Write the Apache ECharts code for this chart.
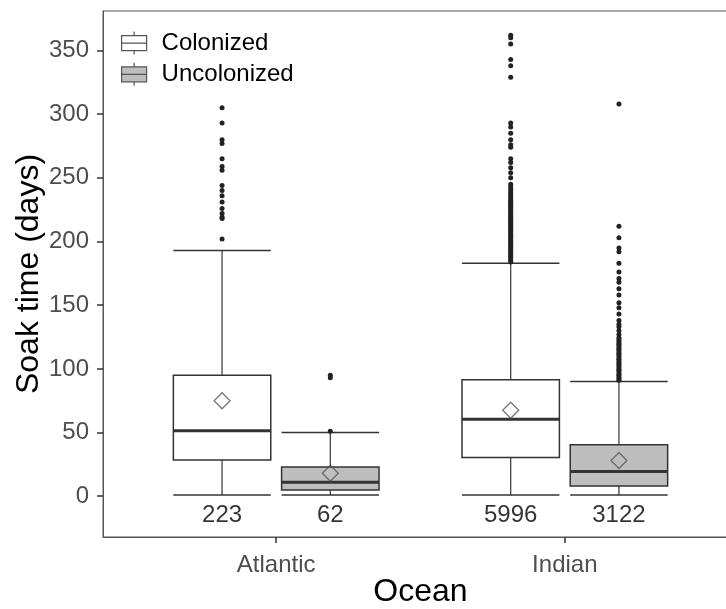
<!DOCTYPE html>
<html>
<head>
<meta charset="utf-8">
<script src="https://cdn.jsdelivr.net/npm/echarts@6/dist/echarts.min.js"></script>
<style>
  html, body { margin: 0; padding: 0; background: #fff; }
  #chart { width: 726px; height: 609px; }
</style>
</head>
<body>
<div id="chart"></div>
<script>
// 데이터
var categories = ['Atlantic', 'Indian'];
var groups = ['Colonized', 'Uncolonized'];
var yTicks = [0, 50, 100, 150, 200, 250, 300, 350];

// [min, Q1, median, Q3, max] per ocean
var colonizedBox = [[1, 28.5, 51.5, 95, 193], [1, 30.5, 60.5, 91.5, 183]];
var uncolonizedBox = [[1, 5, 11, 23, 50], [1, 8, 19.5, 40.5, 90]];
var colonizedMean = [75, 67.5];
var uncolonizedMean = [18, 28];
var colonizedN = [223, 5996];
var uncolonizedN = [62, 3122];

var colonizedOutliers = [
  [202, 218, 219, 222, 226, 231, 236, 240, 244, 256, 259, 265, 277, 280, 293, 305],
  [184, 185.5, 187, 188.5, 190, 191, 192.5, 194, 195.5, 197, 198, 199.5, 201, 202.5, 204, 205,
   206.5, 208, 209, 210.5, 212, 213.5, 215, 216, 217.5, 219, 220, 221.5, 223, 224.5, 226, 227,
   228.5, 230, 231, 232.5, 234, 236, 237.5, 239, 241, 243, 245, 250, 254, 258, 262, 265,
   274, 276, 280, 285, 290, 293, 329, 338, 343, 355, 360, 362]
];
var uncolonizedOutliers = [
  [51, 93, 95],
  [91, 92, 93.5, 95, 96, 97.5, 99, 100, 101.5, 103, 104, 105.5, 107, 108, 109.5, 111, 112,
   113.5, 115, 116, 117.5, 119, 120, 121.5, 123, 124.5, 127, 130, 133, 135, 138, 143, 148,
   152, 158, 163, 168, 171, 176, 183, 192, 195, 203, 212, 308]
];

var dodge = 0.1875;
var boxWidth = 0.3375;
var labelY = -15;
var fills = ['#ffffff', '#bebebe'];
var font = 'Liberation Sans, Arial, sans-serif';

function boxData(boxes, offset) {
  return boxes.map(function (b, i) { return [i + 1 + offset].concat(b); });
}
function pointData(lists, offset) {
  var out = [];
  lists.forEach(function (vals, i) {
    vals.forEach(function (v) { out.push([i + 1 + offset, v]); });
  });
  return out;
}
function meanData(means, offset) {
  return means.map(function (m, i) { return [i + 1 + offset, m]; });
}
function countData(ns, offset) {
  return ns.map(function (n, i) { return [i + 1 + offset, labelY, n]; });
}

function renderBox(fill) {
  return function (params, api) {
    var x = api.value(0);
    var lo = api.coord([x, api.value(1)]);
    var q1 = api.coord([x, api.value(2)]);
    var md = api.coord([x, api.value(3)]);
    var q3 = api.coord([x, api.value(4)]);
    var hi = api.coord([x, api.value(5)]);
    var hw = api.size([boxWidth, 0])[0] / 2;
    function line(x1, y1, x2, y2, w) {
      return { type: 'line', shape: { x1: x1, y1: y1, x2: x2, y2: y2 },
               style: { stroke: '#333', lineWidth: w } };
    }
    return {
      type: 'group',
      children: [
        line(hi[0] - hw, hi[1], hi[0] + hw, hi[1], 1.5),
        line(lo[0] - hw, lo[1], lo[0] + hw, lo[1], 1.5),
        line(hi[0], hi[1], hi[0], q3[1], 1.2),
        line(lo[0], lo[1], lo[0], q1[1], 1.2),
        { type: 'rect', shape: { x: q3[0] - hw, y: q3[1], width: 2 * hw, height: q1[1] - q3[1] },
          style: { fill: fill, stroke: '#333', lineWidth: 1.5 } },
        line(md[0] - hw, md[1], md[0] + hw, md[1], 3)
      ]
    };
  };
}

function groupSeries(name, boxes, outliers, means, ns, offset, fill) {
  return [
    {
      name: name, type: 'custom', z: 2,
      itemStyle: { color: fill, borderColor: '#333' },
      encode: { x: 0, y: [1, 2, 3, 4, 5] },
      renderItem: renderBox(fill),
      data: boxData(boxes, offset)
    },
    {
      name: name + ' outliers', type: 'scatter', z: 3, symbolSize: 5,
      itemStyle: { color: '#222', opacity: 1 },
      data: pointData(outliers, offset)
    },
    {
      name: name + ' mean', type: 'scatter', z: 4, symbol: 'diamond', symbolSize: 16,
      itemStyle: { color: 'rgba(0,0,0,0)', borderColor: '#555', borderWidth: 1.3 },
      data: meanData(means, offset)
    },
    {
      name: name + ' n', type: 'scatter', z: 4, symbolSize: 1,
      itemStyle: { color: 'rgba(0,0,0,0)' },
      label: {
        show: true, position: 'inside', color: '#000', fontSize: 24, fontFamily: font,
        formatter: function (p) { return String(p.value[2]); }
      },
      data: countData(ns, offset)
    }
  ];
}

var legendIcon = 'path://M0,4H25V19H0Z M0,11.5H25 M12.5,0V4 M12.5,19V23';

var chart = echarts.init(document.getElementById('chart'));
chart.setOption({
  animation: false,
  textStyle: { fontFamily: font },
  grid: {
    left: 103, top: 11, right: -12, bottom: 72, show: true, borderColor: '#555', borderWidth: 1,
    outerBoundsMode: 'none', containLabel: false
  },
  legend: {
    left: 116, top: 26, orient: 'vertical', itemWidth: 25, itemHeight: 23, itemGap: 7,
    textStyle: { fontSize: 24, color: '#000', fontFamily: font, padding: [0, 0, 0, 10] },
    data: [
      { name: groups[0], icon: legendIcon, itemStyle: { color: fills[0], borderColor: '#555', borderWidth: 1.2 } },
      { name: groups[1], icon: legendIcon, itemStyle: { color: fills[1], borderColor: '#555', borderWidth: 1.2 } }
    ]
  },
  xAxis: {
    type: 'value', min: 0.4, max: 2.6,
    name: 'Ocean', nameLocation: 'middle', nameGap: 39, nameMoveOverlap: false,
    nameTextStyle: { fontSize: 32, color: '#000', fontFamily: font },
    splitLine: { show: false },
    axisLine: { show: true, onZero: false, lineStyle: { color: '#555' } },
    axisTick: { show: true, length: 6, customValues: [1, 2], lineStyle: { color: '#333', width: 1.5 } },
    axisLabel: {
      customValues: [1, 2], fontSize: 24, color: '#4d4d4d', margin: 16, fontFamily: font,
      formatter: function (v) { return categories[Math.round(v) - 1] || ''; }
    }
  },
  yAxis: {
    type: 'value', min: -32, max: 381,
    name: 'Soak time (days)', nameLocation: 'middle', nameGap: 58, nameMoveOverlap: false,
    nameTextStyle: { fontSize: 32, color: '#000', fontFamily: font },
    splitLine: { show: false },
    axisLine: { show: true, onZero: false, lineStyle: { color: '#555' } },
    axisTick: { show: true, length: 6, customValues: yTicks, lineStyle: { color: '#333', width: 1.5 } },
    axisLabel: { customValues: yTicks, fontSize: 24, color: '#4d4d4d', margin: 14, fontFamily: font }
  },
  series: [].concat(
    groupSeries(groups[0], colonizedBox, colonizedOutliers, colonizedMean, colonizedN, -dodge, fills[0]),
    groupSeries(groups[1], uncolonizedBox, uncolonizedOutliers, uncolonizedMean, uncolonizedN, dodge, fills[1])
  )
});
</script>
</body>
</html>
